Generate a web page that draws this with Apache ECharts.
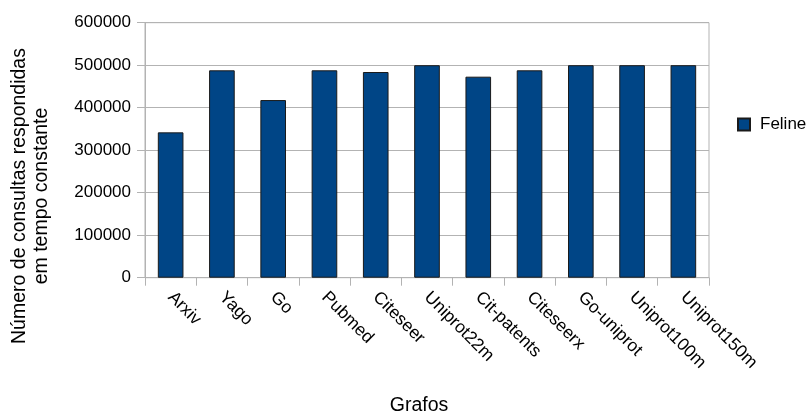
<!DOCTYPE html>
<html>
<head>
<meta charset="utf-8">
<script src="https://cdn.jsdelivr.net/npm/echarts@6/dist/echarts.min.js"></script>
<style>
  html, body { margin: 0; padding: 0; background: #fff; }
  #chart { width: 810px; height: 414px; }
</style>
</head>
<body>
<div id="chart"></div>
<script>
// Graphs tested
const categories = ['Arxiv', 'Yago', 'Go', 'Pubmed', 'Citeseer', 'Uniprot22m',
  'Cit-patents', 'Citeseerx', 'Go-uniprot', 'Uniprot100m', 'Uniprot150m'];

// Queries answered in constant time (Feline)
const felineValues = [342000, 488000, 418000, 488000, 484000, 500000,
  473000, 488000, 500000, 500000, 500000];

const seriesName = 'Feline';
const yTitle = 'Número de consultas respondidas\nem tempo constante';
const xTitle = 'Grafos';

const FONT = '"Liberation Sans", Arial, sans-serif';
const GRAY = '#b3b3b3';

const chart = echarts.init(document.getElementById('chart'), null, { renderer: 'canvas' });

chart.setOption({
  animation: false,
  backgroundColor: '#ffffff',
  textStyle: { fontFamily: FONT, color: '#000' },
  grid: {
    left: 145, right: 101, top: 22.7, bottom: 136.3,
    show: true, borderColor: GRAY, borderWidth: 1, backgroundColor: 'transparent'
  },
  legend: {
    data: [seriesName],
    orient: 'vertical',
    left: 732, top: 111,
    itemWidth: 12, itemHeight: 12, itemGap: 10,
    icon: 'rect',
    textStyle: { fontFamily: FONT, fontSize: 17, color: '#000', padding: [0, 0, 0, 5] }
  },
  xAxis: {
    type: 'category',
    data: categories,
    boundaryGap: true,
    axisLine: { show: true, lineStyle: { color: GRAY, width: 1 } },
    axisTick: { show: true, alignWithLabel: false, length: 8, lineStyle: { color: GRAY } },
    axisLabel: {
      rotate: -45, margin: 17, interval: 0,
      fontFamily: FONT, fontSize: 17.5, color: '#000'
    },
    splitLine: { show: false }
  },
  yAxis: {
    type: 'value',
    min: 0, max: 600000, interval: 100000,
    axisLine: { show: true, lineStyle: { color: GRAY, width: 1 } },
    axisTick: { show: true, length: 8, lineStyle: { color: GRAY } },
    axisLabel: {
      margin: 14, fontFamily: FONT, fontSize: 17, color: '#000',
      formatter: (v) => String(v)
    },
    splitLine: { show: true, lineStyle: { color: GRAY, width: 1 } }
  },
  series: [{
    name: seriesName,
    type: 'bar',
    data: felineValues,
    barWidth: '50%',
    itemStyle: { color: '#004586', borderColor: '#1a1a1a', borderWidth: 1 }
  }],
  graphic: [
    {
      type: 'text',
      x: 31, y: 196,
      rotation: Math.PI / 2,
      style: {
        text: yTitle,
        fontFamily: FONT, fontSize: 19.5, fill: '#000',
        align: 'center', verticalAlign: 'middle', lineHeight: 22
      }
    },
    {
      type: 'text',
      x: 419, y: 406,
      style: {
        text: xTitle,
        fontFamily: FONT, fontSize: 19.5, fill: '#000',
        align: 'center', verticalAlign: 'middle'
      }
    }
  ]
});
</script>
</body>
</html>
